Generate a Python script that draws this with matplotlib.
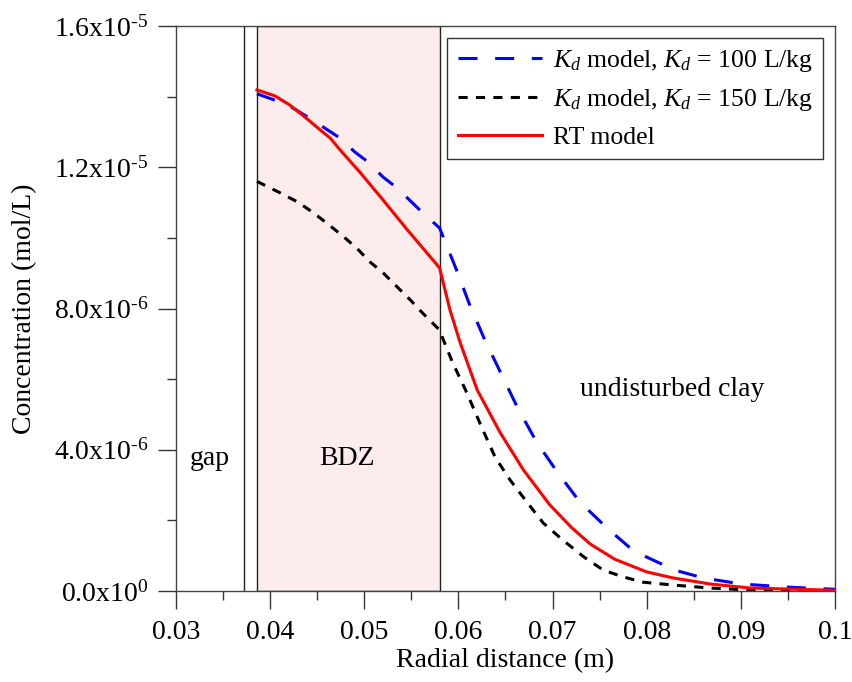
import matplotlib.pyplot as plt
from matplotlib.ticker import MultipleLocator, FixedLocator

plt.rcParams['font.family'] = ['Liberation Serif', 'DejaVu Serif']
plt.rcParams['mathtext.fontset'] = 'custom'
plt.rcParams['mathtext.rm'] = 'Liberation Serif'
plt.rcParams['mathtext.it'] = 'Liberation Serif:italic'

# zone boundaries (m)
gap_edge = 0.0372
bdz_left = 0.0386
bdz_right = 0.058

# Kd model, Kd = 100 L/kg  (concentration in 1e-6 mol/L)
x_kd100 = [0.0386, 0.0405, 0.0424, 0.0440, 0.0458, 0.0474, 0.0490, 0.0504, 0.0520, 0.0535,
           0.0562, 0.0580, 0.0598, 0.0612, 0.0628, 0.0646, 0.0663, 0.0683, 0.0705, 0.0729,
           0.0758, 0.0785, 0.0800, 0.0830, 0.0860, 0.0900, 0.0950, 0.1000]
c_kd100 = [14.08, 13.90, 13.68, 13.42, 13.11, 12.83, 12.43, 12.15, 11.72, 11.41,
           10.71, 10.28, 9.09, 8.10, 7.11, 6.12, 5.18, 4.22, 3.37, 2.52,
           1.78, 1.16, 0.96, 0.59, 0.37, 0.20, 0.11, 0.05]

# Kd model, Kd = 150 L/kg
x_kd150 = [0.0386, 0.0411, 0.0429, 0.0445, 0.0460, 0.0476, 0.0492, 0.0506, 0.0520, 0.0535,
           0.0549, 0.0562, 0.0580, 0.0584, 0.0594, 0.0609, 0.0625, 0.0639, 0.0655, 0.0671,
           0.0690, 0.0711, 0.0734, 0.0754, 0.0775, 0.0796, 0.0828, 0.0867, 0.0910, 0.1000]
c_kd150 = [11.60, 11.27, 11.02, 10.73, 10.42, 10.08, 9.71, 9.32, 9.01, 8.61,
           8.24, 7.87, 7.39, 7.11, 6.46, 5.61, 4.62, 3.79, 3.14, 2.58,
           1.93, 1.44, 0.95, 0.59, 0.40, 0.25, 0.17, 0.085, 0.03, 0.01]

# RT model
x_rt = [0.0386, 0.0405, 0.0421, 0.0437, 0.0453, 0.0464, 0.0474, 0.0495, 0.0520, 0.0545,
        0.0580, 0.0591, 0.0602, 0.0620, 0.0644, 0.0669, 0.0697, 0.0720, 0.0740, 0.0766,
        0.0800, 0.0828, 0.0867, 0.0910, 0.1000]
c_rt = [14.19, 14.02, 13.76, 13.42, 13.06, 12.82, 12.50, 11.87, 11.07, 10.25,
        9.15, 7.96, 7.02, 5.69, 4.50, 3.43, 2.44, 1.80, 1.33, 0.90,
        0.54, 0.37, 0.20, 0.085, 0.02]

y_ticks = [0, 4e-6, 8e-6, 1.2e-5, 1.6e-5]
y_tick_labels = [r'$\mathregular{0.0x10^{0}}$', r'$\mathregular{4.0x10^{\text{-}6}}$',
                 r'$\mathregular{8.0x10^{\text{-}6}}$', r'$\mathregular{1.2x10^{\text{-}5}}$',
                 r'$\mathregular{1.6x10^{\text{-}5}}$']

fig = plt.figure(figsize=(8.53, 6.82), dpi=100)
ax = fig.add_axes([0.2063, 0.1334, 0.9789 - 0.2063, 0.9619 - 0.1334])

# zones
ax.axvspan(bdz_left, bdz_right, facecolor='#fcecec', edgecolor='#222222', linewidth=1.0, zorder=0)
ax.axvline(gap_edge, color='#222222', linewidth=1.0, zorder=1)

scale = 1e-6
ax.plot(x_kd100, [c * scale for c in c_kd100], color='#0000ff', linewidth=2.2,
        dashes=(6.2, 5.8), label=r'$K_d$ model, $K_d$ = 100 L/kg', zorder=3)
ax.plot(x_kd150, [c * scale for c in c_kd150], color='black', linewidth=2.2,
        dashes=(3.0, 2.7), label=r'$K_d$ model, $K_d$ = 150 L/kg', zorder=3)
ax.plot(x_rt, [c * scale for c in c_rt], color='#ff0000', linewidth=2.2,
        label='RT model', zorder=4)

ax.text(0.0336, 3.75e-6, 'gap', fontsize=20, ha='center', va='center')
ax.text(0.0482, 3.75e-6, 'BDZ', fontsize=20, ha='center', va='center')
ax.text(0.0827, 5.7e-6, 'undisturbed clay', fontsize=20, ha='center', va='center')

ax.set_xlim(0.03, 0.1)
ax.set_ylim(0, 1.6e-5)
ax.xaxis.set_major_locator(FixedLocator([0.03, 0.04, 0.05, 0.06, 0.07, 0.08, 0.09, 0.1]))
ax.set_xticklabels(['0.03', '0.04', '0.05', '0.06', '0.07', '0.08', '0.09', '0.1'])
ax.xaxis.set_minor_locator(MultipleLocator(0.005))
ax.set_yticks(y_ticks)
ax.set_yticklabels(y_tick_labels)
ax.yaxis.set_minor_locator(MultipleLocator(2e-6))

ax.tick_params(which='both', direction='out', top=False, right=False, labelsize=20,
               color='#333333', width=1.0)
ax.tick_params(which='major', length=13)
ax.tick_params(which='minor', length=6.5)
ax.tick_params(axis='x', pad=8)
ax.tick_params(axis='y', pad=7)
for sp in ax.spines.values():
    sp.set_color('#444444')
    sp.set_linewidth(1.0)

ax.set_xlabel('Radial distance (m)', fontsize=20, labelpad=2)
ax.set_ylabel('Concentration (mol/L)', fontsize=20, labelpad=12)

leg = ax.legend(loc='upper right', bbox_to_anchor=(0.982, 0.979), borderaxespad=0,
                fontsize=18.5, frameon=True, fancybox=False, handlelength=3.3,
                handletextpad=0.4, labelspacing=0.5, borderpad=0.4)
leg.get_frame().set_edgecolor('black')
leg.get_frame().set_linewidth(1.0)

fig.savefig('out.png', dpi=100)
